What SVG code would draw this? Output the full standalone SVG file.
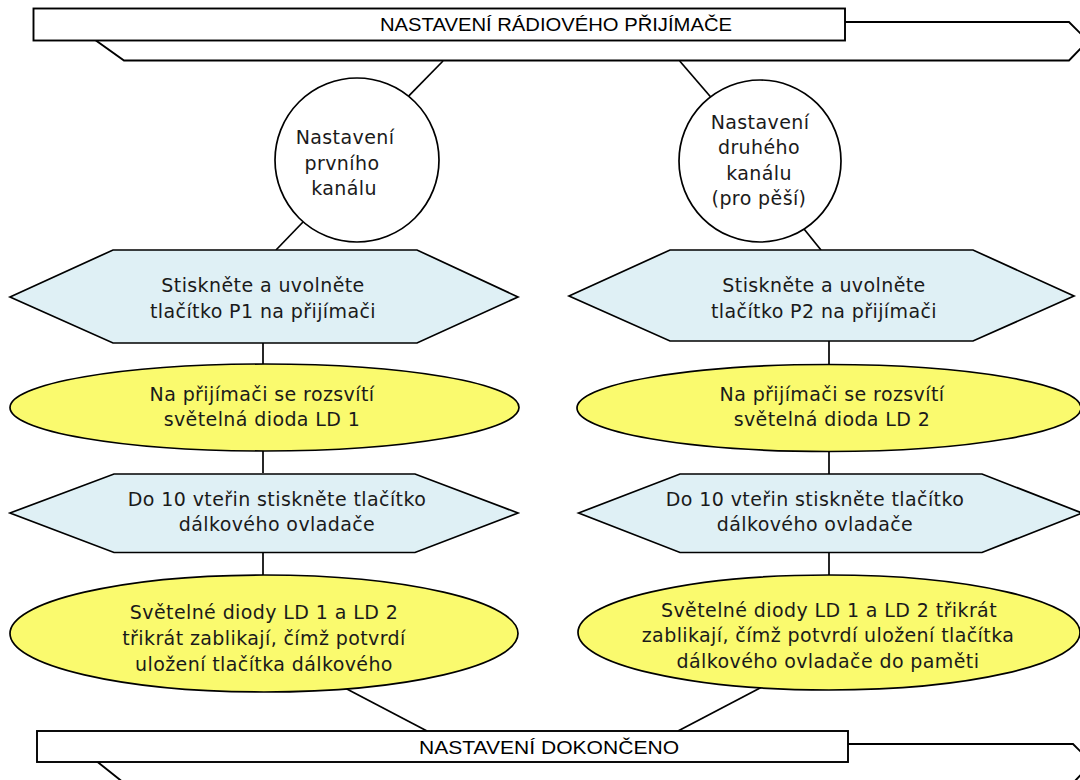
<svg xmlns="http://www.w3.org/2000/svg" width="1080" height="780" viewBox="0 0 1080 780">
<style>
.ln{stroke:#000;stroke-width:1.7;fill:none}
.ban{fill:#fff;stroke:#000;stroke-width:1.9}
.hex{fill:#DFF0F5;stroke:#000;stroke-width:1.7}
.ell{fill:#FAFA6E;stroke:#000;stroke-width:1.7}
.cir{fill:#fff;stroke:#000;stroke-width:1.7}
.t{font-family:"DejaVu Sans","Liberation Sans",sans-serif;font-size:19px;letter-spacing:0.4px;fill:#1a1a1a;text-anchor:middle}
.bt{font-family:"Liberation Sans",sans-serif;font-size:19px;fill:#000;text-anchor:middle}
</style>
<rect width="1080" height="780" fill="#fff"/>
<g id="start">
<polygon class="ban" points="70,22 1069,22 1088,41 1069,60.5 124,60.5"/>
<rect class="ban" x="33.5" y="8.5" width="811.5" height="32"/>
<text class="bt" x="556" y="31" textLength="352" lengthAdjust="spacingAndGlyphs">NASTAVENÍ RÁDIOVÉHO PŘIJÍMAČE</text>
</g>
<g id="connectors">
<line class="ln" x1="443" y1="61" x2="408.6" y2="96.2"/>
<line class="ln" x1="679.7" y1="61" x2="710.5" y2="96.8"/>
<line class="ln" x1="303" y1="222" x2="276" y2="250"/>
<line class="ln" x1="804" y1="229" x2="821" y2="250"/>
<line class="ln" x1="263" y1="343" x2="263" y2="365"/>
<line class="ln" x1="829" y1="341" x2="829" y2="365"/>
<line class="ln" x1="263" y1="451" x2="263" y2="473"/>
<line class="ln" x1="829" y1="451" x2="829" y2="474"/>
<line class="ln" x1="263" y1="552" x2="263" y2="576"/>
<line class="ln" x1="829" y1="552" x2="829" y2="576"/>
<line class="ln" x1="344" y1="687.5" x2="427" y2="731"/>
<line class="ln" x1="761" y1="687.5" x2="678" y2="731"/>
</g>
<g id="c1">
<circle class="cir" cx="357" cy="160" r="82"/>
<text class="t" x="345" y="144">Nastavení</text>
<text class="t" x="342" y="170">prvního</text>
<text class="t" x="344" y="195">kanálu</text>
</g>
<g id="c2">
<circle class="cir" cx="760" cy="161" r="81"/>
<text class="t" x="760" y="129">Nastavení</text>
<text class="t" x="759" y="154">druhého</text>
<text class="t" x="759" y="180">kanálu</text>
<text class="t" x="759" y="205">(pro pěší)</text>
</g>
<g id="h1">
<polygon class="hex" points="10,297 113,250 417,250 518,297 417,343 113,343"/>
<text class="t" x="263" y="292">Stiskněte a uvolněte</text>
<text class="t" x="263" y="318">tlačítko P1 na přijímači</text>
</g>
<g id="h2">
<polygon class="hex" points="569,296 670,250 973,250 1074,296 973,341 670,341"/>
<text class="t" x="824" y="292">Stiskněte a uvolněte</text>
<text class="t" x="824" y="318">tlačítko P2 na přijímači</text>
</g>
<g id="e1">
<ellipse class="ell" cx="264.5" cy="407.5" rx="254.5" ry="43.5"/>
<text class="t" x="262" y="401">Na přijímači se rozsvítí</text>
<text class="t" x="262" y="426">světelná dioda LD 1</text>
</g>
<g id="e2">
<ellipse class="ell" cx="829" cy="408" rx="252" ry="43.5"/>
<text class="t" x="832" y="401">Na přijímači se rozsvítí</text>
<text class="t" x="832" y="426">světelná dioda LD 2</text>
</g>
<g id="h3">
<polygon class="hex" points="10,513 114,474 415,474 518,513 415,552.5 114,552.5"/>
<text class="t" x="277" y="506">Do 10 vteřin stiskněte tlačítko</text>
<text class="t" x="277" y="531">dálkového ovladače</text>
</g>
<g id="h4">
<polygon class="hex" points="578.6,513 680,474 982,474 1082,513 982,552.5 680,552.5"/>
<text class="t" x="815" y="506">Do 10 vteřin stiskněte tlačítko</text>
<text class="t" x="815" y="531">dálkového ovladače</text>
</g>
<g id="e3">
<ellipse class="ell" cx="264" cy="633.5" rx="254" ry="58.5"/>
<text class="t" x="264" y="619">Světelné diody LD 1 a LD 2</text>
<text class="t" x="264" y="645">třikrát zablikají, čímž potvrdí</text>
<text class="t" x="264" y="671">uložení tlačítka dálkového</text>
</g>
<g id="e4">
<ellipse class="ell" cx="829" cy="632.5" rx="251" ry="57.5"/>
<text class="t" x="829" y="617">Světelné diody LD 1 a LD 2 třikrát</text>
<text class="t" x="828" y="642">zablikají, čímž potvrdí uložení tlačítka</text>
<text class="t" x="828" y="668">dálkového ovladače do paměti</text>
</g>
<g id="end">
<polygon class="ban" points="75,744 1073,744 1092,763 1073,783 124,783"/>
<rect class="ban" x="37" y="731" width="811" height="31"/>
<text class="bt" x="549" y="754" textLength="260" lengthAdjust="spacingAndGlyphs">NASTAVENÍ DOKONČENO</text>
</g>
</svg>
